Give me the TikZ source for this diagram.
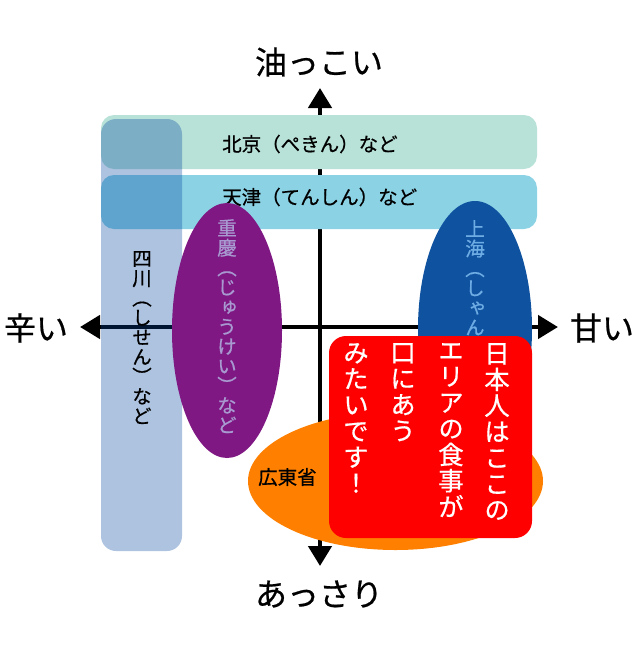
\documentclass[tikz,border=0pt]{standalone}
\usepackage{fontspec}
\setmainfont[FakeBold=0.6]{Noto Sans CJK JP}
\newfontfamily\tatefont[RawFeature=+vert,FakeBold=0.6]{Noto Sans CJK JP}
\usetikzlibrary{arrows.meta}
\definecolor{pekin}{RGB}{184,226,216}
\definecolor{tenshin}{RGB}{139,210,229}
\definecolor{sisen}{RGB}{0,68,158}
\definecolor{jukei}{RGB}{128,24,132}
\definecolor{jukeimoji}{RGB}{168,154,208}
\definecolor{shanhai}{RGB}{14,82,160}
\definecolor{shanhaimoji}{RGB}{110,172,228}
\definecolor{kanton}{RGB}{255,128,0}
\definecolor{hako}{RGB}{255,0,0}
\begin{document}
\begin{tikzpicture}[x=1pt,y=-1pt,
    axis/.style={line width=4.5pt,
      {Triangle[width=23pt,length=20pt]}-{Triangle[width=23pt,length=20pt]}},
    big/.style={inner sep=0pt,font=\fontsize{32}{34}\selectfont},
    yoko/.style={inner sep=0pt,anchor=west,font=\fontsize{19.5}{20}\selectfont},
    tate/.style={inner sep=0pt,anchor=north,align=center,
      font=\tatefont\fontsize{19.5}{19.7}\selectfont},
    tatebig/.style={tate,text=white,font=\tatefont\fontsize{25.5}{26.1}\selectfont}]
    \useasboundingbox (0,0) rectangle (642,667);
    % axes
    \coordinate (A0_1) at (320,88);
    \coordinate (A2_1) at (320,566);
    \coordinate (A1_0) at (80,327);
    \coordinate (A1_2) at (558,327);
    \draw[axis] (A0_1) -- (A2_1);
    \draw[axis] (A1_0) -- (A1_2);
    \node[big] (L0_1) at (319,62) {油っこい};
    \node[big] (L2_1) at (319,594) {あっさり};
    \node[big] (L1_0) at (36,328) {辛い};
    \node[big] (L1_2) at (602,328) {甘い};
    % regions
    \fill[pekin,rounded corners=13pt] (101,115) rectangle (537,169);
    \node[yoko] (R_pekin) at (222,144) {北京（ぺきん）など};
    \fill[tenshin,rounded corners=13pt] (101,175) rectangle (537,229);
    \node[yoko] (R_tenshin) at (222,197) {天津（てんしん）など};
    \fill[sisen,opacity=0.32,rounded corners=15pt] (101,119) rectangle (182,551);
    \node[tate] (R_sisen) at (142,251) {四\\川\\（\\し\\せ\\ん\\）\\な\\ど};
    \fill[jukei] (227,330.5) ellipse [x radius=55pt,y radius=127.5pt];
    \node[tate,text=jukeimoji] (R_jukei) at (227,219)
      {重\\慶\\（\\じ\\ゅ\\う\\け\\い\\）\\な\\ど};
    \fill[shanhai] (475,329) ellipse [x radius=57pt,y radius=128pt];
    \node[tate,text=shanhaimoji] (R_shanhai) at (475,220)
      {上\\海\\（\\し\\ゃ\\ん\\は\\い\\）\\な\\ど};
    \fill[kanton] (395.5,481) ellipse [x radius=147.5pt,y radius=69pt];
    \node[yoko] (R_kanton) at (258,477) {広東省（かんとんしょう）など};
    % comment box
    \fill[hako,rounded corners=17pt] (329,336) rectangle (532,538);
    \node[tatebig] (C1) at (497,343) {日\\本\\人\\は\\こ\\こ\\の};
    \node[tatebig] (C2) at (451,343) {エ\\リ\\ア\\の\\食\\事\\が};
    \node[tatebig] (C3) at (403,343) {口\\に\\あ\\う};
    \node[tatebig] (C4) at (356,343) {み\\た\\い\\で\\す\\！};
\end{tikzpicture}
\end{document}
